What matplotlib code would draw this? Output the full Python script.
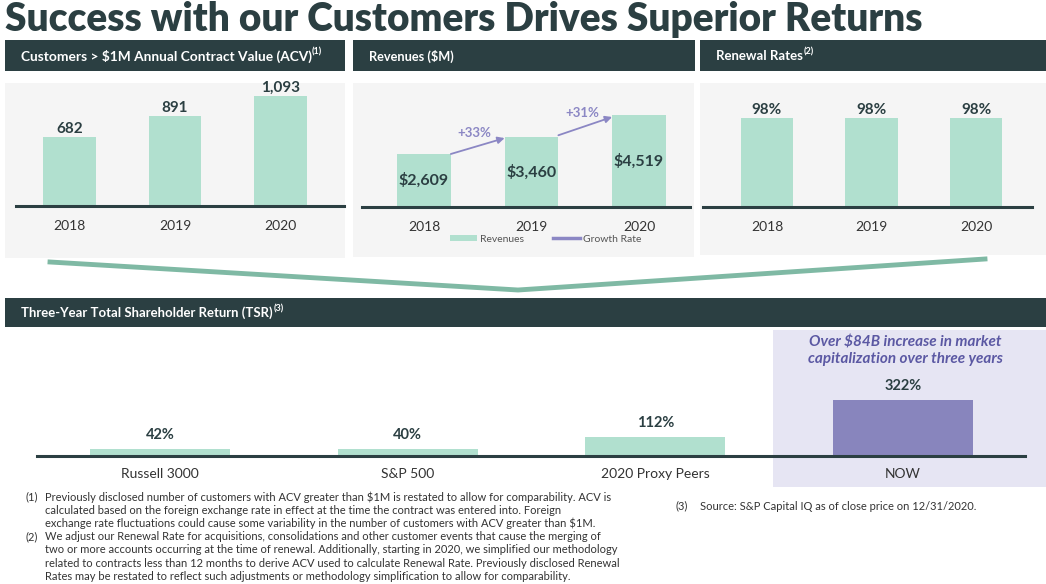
import numpy as np
import matplotlib
matplotlib.use("Agg")
import matplotlib.pyplot as plt
from matplotlib.patches import Rectangle, Patch
from matplotlib.lines import Line2D

# ---- data ----
years = ["2018", "2019", "2020"]
acv_customers = [682, 891, 1093]
revenues = [2609, 3460, 4519]
renewal_rates = [98, 98, 98]
tsr_labels = ["Russell 3000", "S&P 500", "2020 Proxy Peers", "NOW"]
tsr_values = [42, 40, 112, 322]

W, H = 1046, 584
DARK = "#2b3f42"
MINT = "#b1e0cf"
PANEL = "#f5f5f5"
PURPLE = "#8885bd"
PURPLE_TXT = "#5b58a3"
LAVENDER = "#e6e5f3"
CHEVRON = "#7fb9a4"

BODY = ["Lato", "DejaVu Sans"]
plt.rcParams["font.family"] = BODY

fig = plt.figure(figsize=(W / 100, H / 100), dpi=100)
fig.patch.set_facecolor("white")
renderer = fig.canvas.get_renderer()


def rect(x0, y0, x1, y1, color):
    fig.add_artist(Rectangle((x0 / W, 1 - y1 / H), (x1 - x0) / W, (y1 - y0) / H,
                             transform=fig.transFigure, facecolor=color,
                             edgecolor="none", zorder=0))


def ftext(x, y, s, **kw):
    return fig.text(x / W, 1 - y / H, s, **kw)


def fit_width(txt, width_px):
    # shrink/grow a text so it spans the given pixel width
    w = txt.get_window_extent(renderer).width
    txt.set_fontsize(txt.get_fontsize() * width_px / w)


def make_ax(x0, x1, ybase, ytop, center0, spacing, yscale):
    ax = fig.add_axes([x0 / W, 1 - ybase / H, (x1 - x0) / W, (ybase - ytop) / H])
    ax.set_facecolor("none")
    ax.set_xlim(-(center0 - x0) / spacing, (x1 - center0) / spacing)
    ax.set_ylim(0, (ybase - ytop) * yscale)
    for s in ["top", "left", "right"]:
        ax.spines[s].set_visible(False)
    ax.spines["bottom"].set_color(DARK)
    ax.spines["bottom"].set_linewidth(2.2)
    ax.set_yticks([])
    ax.tick_params(axis="x", length=0, pad=10, labelsize=10, labelcolor="#333333")
    return ax


# ---- title ----
title = ftext(5, 19, "Success with our Customers Drives Superior Returns",
              fontsize=25, fontweight="heavy", color=DARK,
              ha="left", va="center")
fit_width(title, 917)

# ---- header bars & panel backgrounds ----
headers = [(5, 345, "Customers > $1M Annual Contract Value (ACV)", "(1)", 290),
           (353, 695, "Revenues ($M)", "", 85),
           (700, 1046, "Renewal Rates", "(2)", 87)]
for x0, x1, label, sup, wid in headers:
    rect(x0, 40, x1, 71, DARK)
    h = ftext(x0 + 16, 56, label, color="white", fontsize=10, fontweight="bold",
              ha="left", va="center")
    fit_width(h, wid)
    if sup:
        ftext(x0 + 16 + wid + 1, 52, sup, color="white", fontsize=6.5,
              fontweight="bold", ha="left", va="center")
rect(5, 83, 345, 258, PANEL)
rect(353, 83, 694, 257, PANEL)
rect(700, 83, 1046, 255, PANEL)

# ---- panel 1: customers ----
ax1 = make_ax(16, 344, 206, 86, 69.5, 105.5, 9.95)
x = np.arange(len(years))
ax1.bar(x, acv_customers, width=0.5, color=MINT)
for xi, v in zip(x, acv_customers):
    ax1.annotate(f"{v:,}", (xi, v), xytext=(0, 1), textcoords="offset points",
                 ha="center", va="bottom", fontsize=11, fontweight="bold", color=DARK)
ax1.set_xticks(x)
ax1.set_xticklabels(years)

# ---- panel 2: revenues ----
ax2 = make_ax(362, 690, 207, 90, 424, 107.5, 49.2)
ax2.bar(x, revenues, width=0.5, color=MINT)
for xi, v in zip(x, revenues):
    ax2.text(xi, v / 2, f"${v:,}", ha="center", va="center", fontsize=11.5,
             fontweight="bold", color=DARK)
for i in range(len(revenues) - 1):
    growth = (revenues[i + 1] / revenues[i] - 1) * 100
    y0 = revenues[i] if i == 0 else revenues[i] * 1.02
    ax2.annotate("", xy=(i + 1 - 0.25, revenues[i + 1] * 0.98), xytext=(i + 0.25, y0),
                 arrowprops=dict(arrowstyle="-|>", color="#8b87c4", lw=1.3,
                                 mutation_scale=10, shrinkA=0, shrinkB=0))
    ax2.annotate(f"+{growth:.0f}%", (i + 0.47, (y0 + revenues[i + 1]) / 2),
                 xytext=(0, 9), textcoords="offset points", ha="center",
                 va="center", fontsize=9.5, fontweight="bold", color="#8b87c4")
ax2.set_xticks(x)
ax2.set_xticklabels(years)
ax2.legend(handles=[Patch(facecolor=MINT, label="Revenues"),
                    Line2D([], [], color="#8b87c4", lw=2.5, label="Growth Rate")],
           loc="upper center", bbox_to_anchor=(0.56, -0.155), ncol=2, frameon=False,
           fontsize=7.5, handlelength=2.6, handleheight=0.6, columnspacing=2.8,
           handletextpad=0.3, labelcolor="#555555")

# ---- panel 3: renewal rates ----
ax3 = make_ax(703, 1032, 207, 87, 767, 104.5, 1.101)
ax3.bar(x, renewal_rates, width=0.5, color=MINT)
for xi, v in zip(x, renewal_rates):
    ax3.annotate(f"{v}%", (xi, v), xytext=(0, 1), textcoords="offset points",
                 ha="center", va="bottom", fontsize=11, fontweight="bold", color=DARK)
ax3.set_xticks(x)
ax3.set_xticklabels(years)

# ---- chevron ----
fig.add_artist(Line2D([50 / W, 518 / W, 985 / W],
                      [1 - 262 / H, 1 - 290 / H, 1 - 259 / H],
                      transform=fig.transFigure, color=CHEVRON, lw=3.5,
                      solid_joinstyle="miter"))

# ---- TSR ----
rect(5, 298, 1046, 327, DARK)
th = ftext(21, 313, "Three-Year Total Shareholder Return (TSR)",
           color="white", fontsize=10, fontweight="bold", ha="left", va="center")
fit_width(th, 252)
ftext(21 + 253, 309, "(3)", color="white", fontsize=6.5,
      fontweight="bold", ha="left", va="center")
rect(773, 330, 1046, 487, LAVENDER)

ax4 = make_ax(37, 1025, 456, 376, 160, 247.7, 5.75)
t = np.arange(len(tsr_labels))
tsr_colors = [MINT] * (len(tsr_labels) - 1) + [PURPLE]
ax4.bar(t, tsr_values, width=0.565, color=tsr_colors)
for ti, v in zip(t, tsr_values):
    ax4.annotate(f"{v}%", (ti, v), xytext=(0, 5), textcoords="offset points",
                 ha="center", va="bottom", fontsize=10.5, fontweight="bold", color=DARK)
ax4.set_xticks(t)
ax4.set_xticklabels(tsr_labels)
ax4.tick_params(axis="x", pad=9, labelsize=10)

ftext(905, 351, "Over $84B increase in market\ncapitalization over three years",
      ha="center", va="center", fontsize=11, fontweight="bold", style="italic",
      color=PURPLE_TXT, linespacing=1.25)

# ---- footnotes ----
FN = dict(fontsize=8, color="#333333", ha="left", va="center")
notes = [
    ("(1)", ["Previously disclosed number of customers with ACV greater than $1M is restated to allow for comparability. ACV is",
             "calculated based on the foreign exchange rate in effect at the time the contract was entered into. Foreign",
             "exchange rate fluctuations could cause some variability in the number of customers with ACV greater than $1M."]),
    ("(2)", ["We adjust our Renewal Rate for acquisitions, consolidations and other customer events that cause the merging of",
             "two or more accounts occurring at the time of renewal. Additionally, starting in 2020, we simplified our methodology",
             "related to contracts less than 12 months to derive ACV used to calculate Renewal Rate. Previously disclosed Renewal",
             "Rates may be restated to reflect such adjustments or methodology simplification to allow for comparability."]),
]
y = 497
for mark, lines in notes:
    ftext(25, y, mark, **FN)
    for line in lines:
        ftext(45, y, line, **FN)
        y += 13.2
ftext(675, 506, "(3)", **FN)
ftext(700, 506, "Source: S&P Capital IQ as of close price on 12/31/2020.", **FN)

fig.savefig("out.png", dpi=100, facecolor="white")
